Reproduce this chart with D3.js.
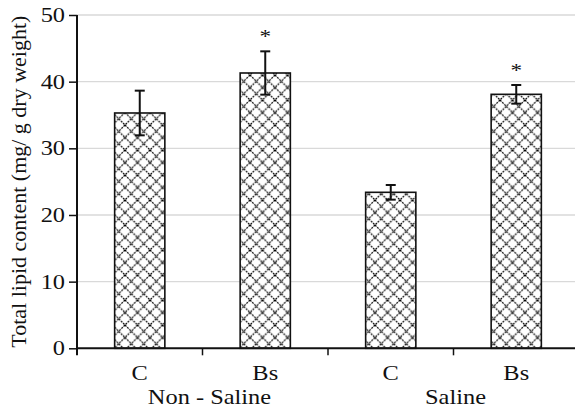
<!DOCTYPE html>
<html>
<head>
<meta charset="utf-8">
<script src="https://cdn.jsdelivr.net/npm/d3@7"></script>
<style>
  html, body { margin: 0; padding: 0; background: #fff; }
</style>
</head>
<body>
<div id="chart"></div>
<script>
// data
const categories = ['C', 'Bs', 'C2', 'Bs2']
const categoryLabels = ['C', 'Bs', 'C', 'Bs']
const values = [35.3, 41.3, 23.4, 38.1]
const errors = [3.35, 3.25, 1.1, 1.4]
const significant = [false, true, false, true]
const groups = ['Non - Saline', 'Saline']
const yTicks = [0, 10, 20, 30, 40, 50]

const W = 575, H = 409
const mLeft = 77, mRight = 579, mTop = 15, mBottom = 348.3
const FONT = 'Liberation Serif, Times New Roman, Times, DejaVu Serif, serif'
const SX = 1.22 // the source figure is stretched sideways

const svg = d3.select('#chart').append('svg')
  .attr('width', W)
  .attr('height', H)
  .style('display', 'block')
  .attr('font-family', FONT)

// crosshatch pattern for bars
const defs = svg.append('defs')
const pat = defs.append('pattern')
  .attr('id', 'hatch')
  .attr('patternUnits', 'userSpaceOnUse')
  .attr('width', 12.5)
  .attr('height', 12.5)
pat.append('rect').attr('width', 12.5).attr('height', 12.5).attr('fill', '#fff')
pat.append('path')
  .attr('d', 'M0,0 L12.5,12.5 M12.5,0 L0,12.5')
  .attr('stroke', '#000')
  .attr('stroke-width', 1.2)
  .attr('stroke-dasharray', '2,1')

const x = d3.scaleBand().domain(categories).range([mLeft, mRight]).paddingInner(0.6).paddingOuter(0.3)
const xEdge = d3.scaleLinear().domain([0, categories.length]).range([mLeft, mRight])
const y = d3.scaleLinear().domain([0, 50]).range([mBottom, mTop])

// gridlines
svg.append('g')
  .selectAll('line')
  .data(yTicks.filter(d => d > 0))
  .join('line')
  .attr('x1', mLeft).attr('x2', W)
  .attr('y1', d => y(d)).attr('y2', d => y(d))
  .attr('stroke', '#d9d9d9')
  .attr('stroke-width', 1.3)

// bars
svg.append('g')
  .selectAll('rect')
  .data(values)
  .join('rect')
  .attr('x', (d, i) => x(categories[i]))
  .attr('y', d => y(d))
  .attr('width', x.bandwidth())
  .attr('height', d => y(0) - y(d))
  .attr('fill', 'url(#hatch)')
  .attr('stroke', '#111')
  .attr('stroke-width', 1.6)

// error bars
const eb = svg.append('g').attr('stroke', '#111').attr('stroke-width', 2)
values.forEach((v, i) => {
  const cx = x(categories[i]) + x.bandwidth() / 2
  eb.append('line').attr('x1', cx).attr('x2', cx).attr('y1', y(v - errors[i])).attr('y2', y(v + errors[i]))
  eb.append('line').attr('x1', cx - 5).attr('x2', cx + 5).attr('y1', y(v + errors[i])).attr('y2', y(v + errors[i]))
  eb.append('line').attr('x1', cx - 5).attr('x2', cx + 5).attr('y1', y(v - errors[i])).attr('y2', y(v - errors[i]))
})

// significance stars
svg.append('g')
  .selectAll('text')
  .data(values.map((v, i) => ({ v, i })).filter(d => significant[d.i]))
  .join('text')
  .attr('transform', d => `translate(${x(categories[d.i]) + x.bandwidth() / 2},${y(d.v + errors[d.i]) - 8}) scale(${SX},1)`)
  .attr('text-anchor', 'middle')
  .attr('font-size', 19)
  .attr('fill', '#111')
  .text('*')

// y axis
const yAxis = svg.append('g')
  .attr('transform', `translate(${mLeft},0)`)
  .call(d3.axisLeft(y).tickValues(yTicks).tickSize(8).tickPadding(1.8))
  .attr('font-family', FONT)
  .attr('font-size', 20)
yAxis.select('.domain').attr('d', `M0,${mTop}V${mBottom + 7}`).attr('stroke', '#111').attr('stroke-width', 2)
yAxis.selectAll('.tick line').attr('stroke', '#111').attr('stroke-width', 1.5)
yAxis.selectAll('.tick text').attr('fill', '#111').attr('transform', `scale(${SX},1)`)

// x axis
const xa = svg.append('g')
xa.append('line')
  .attr('x1', mLeft).attr('x2', W)
  .attr('y1', mBottom).attr('y2', mBottom)
  .attr('stroke', '#111').attr('stroke-width', 2)
xa.selectAll('line.tk')
  .data(d3.range(1, categories.length))
  .join('line')
  .attr('class', 'tk')
  .attr('x1', d => xEdge(d)).attr('x2', d => xEdge(d))
  .attr('y1', mBottom).attr('y2', mBottom + 7)
  .attr('stroke', '#111').attr('stroke-width', 1.5)
xa.selectAll('text.cat')
  .data(categories)
  .join('text')
  .attr('class', 'cat')
  .attr('transform', d => `translate(${x(d) + x.bandwidth() / 2},380) scale(${SX},1)`)
  .attr('text-anchor', 'middle')
  .attr('font-size', 20)
  .attr('fill', '#111')
  .text((d, i) => categoryLabels[i])
xa.selectAll('text.grp')
  .data(groups)
  .join('text')
  .attr('class', 'grp')
  .attr('transform', (d, i) => `translate(${xEdge(i * 2 + 1) + (i === 0 ? 7 : 2)},404) scale(${SX},1)`)
  .attr('text-anchor', 'middle')
  .attr('font-size', 20)
  .attr('fill', '#111')
  .text(d => d)

// y label
svg.append('text')
  .attr('transform', `translate(26,${(mBottom + 15) / 2}) rotate(-90)`)
  .attr('text-anchor', 'middle')
  .attr('font-size', 22)
  .attr('fill', '#111')
  .text('Total lipid content (mg/ g dry weight)')
</script>
</body>
</html>
